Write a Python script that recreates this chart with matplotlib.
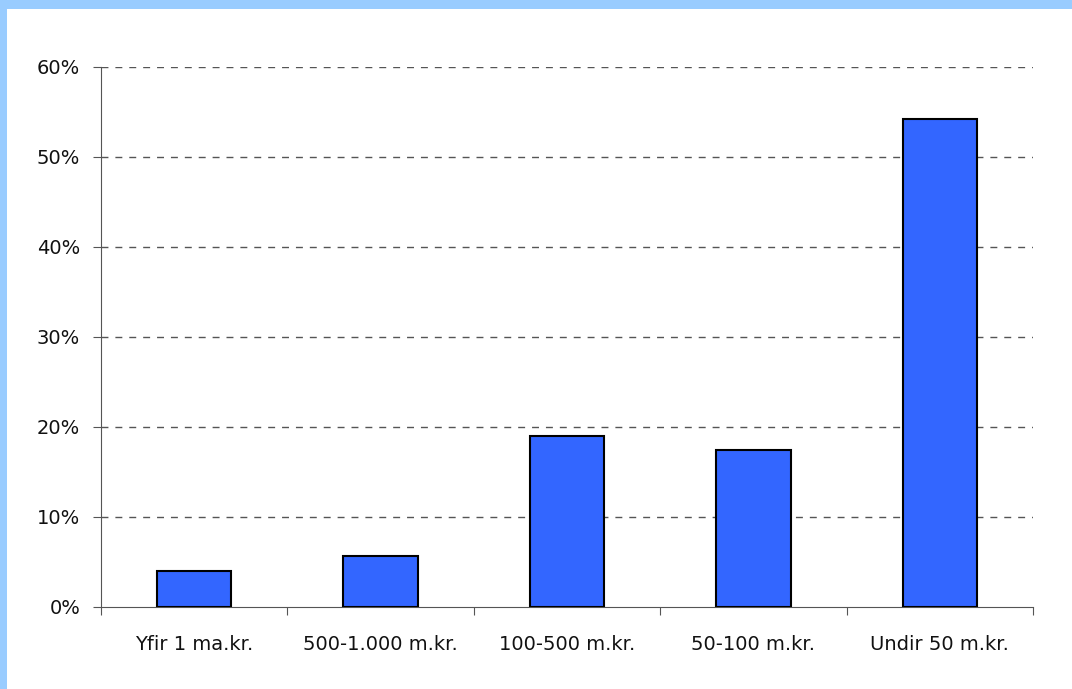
import matplotlib.pyplot as plt
from matplotlib.patches import Rectangle

categories = ["Yfir 1 ma.kr.", "500-1.000 m.kr.", "100-500 m.kr.", "50-100 m.kr.", "Undir 50 m.kr."]
shares = [4.0, 5.7, 19.0, 17.4, 54.2]
yticks = [0, 10, 20, 30, 40, 50, 60]

fig = plt.figure(figsize=(10.72, 6.89), dpi=100)
fig.patch.set_facecolor("white")

# light blue frame on top and left edge
fig.patches.append(Rectangle((0, 1 - 9 / 689), 1, 9 / 689, transform=fig.transFigure,
                             facecolor="#99CCFF", edgecolor="none", zorder=0))
fig.patches.append(Rectangle((0, 0), 7 / 1072, 1, transform=fig.transFigure,
                             facecolor="#99CCFF", edgecolor="none", zorder=0))

ax = fig.add_axes([101 / 1072, 82 / 689, 932 / 1072, 540 / 689])

x = range(len(categories))
ax.bar(x, shares, width=0.4, color="#3366FF", edgecolor="black", linewidth=1.5, zorder=3)

ax.set_xlim(-0.5, len(categories) - 0.5)
ax.set_ylim(0, 60)
ax.set_yticks(yticks)
ax.set_yticklabels([f"{v}%" for v in yticks])

# category labels between boundary ticks
ax.set_xticks([i - 0.5 for i in range(len(categories) + 1)])
ax.set_xticklabels([])
ax.set_xticks(list(x), minor=True)
ax.set_xticklabels(categories, minor=True)
ax.tick_params(axis="x", which="minor", length=0, pad=20, labelsize=14, labelcolor="#111111")
ax.tick_params(axis="x", which="major", length=6, color="#555555", direction="out")
ax.tick_params(axis="y", length=6, color="#555555", pad=9, labelsize=14, labelcolor="#111111")

for v in yticks[1:]:
    ax.axhline(v, color="#555555", linestyle=(0, (5, 5)), linewidth=1, zorder=1)

for side in ["top", "right"]:
    ax.spines[side].set_visible(False)
for side in ["left", "bottom"]:
    ax.spines[side].set_color("#555555")

fig.savefig("out.png", dpi=100)
